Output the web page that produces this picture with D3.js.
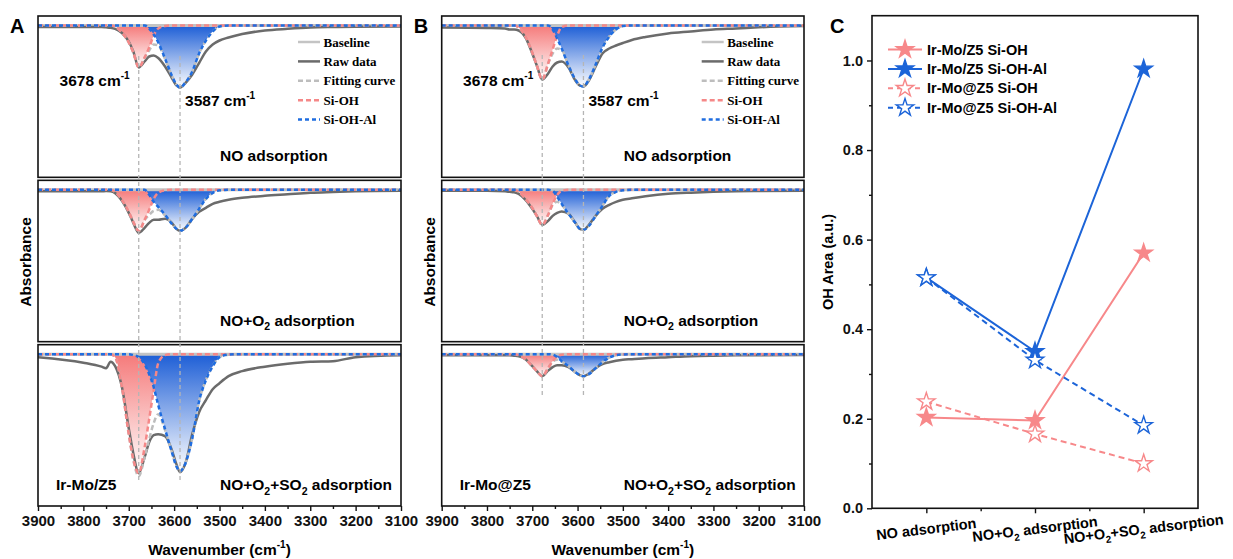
<!DOCTYPE html>
<html>
<head>
<meta charset="utf-8">
<script src="https://cdn.jsdelivr.net/npm/d3@7"></script>
<style>
  body { margin: 0; background: #fff; }
  svg { display: block; font-family: "Liberation Sans", Arial, sans-serif; font-weight: bold; }
</style>
</head>
<body>
<div id="app"></div>
<script>
// wavenumber grid (cm-1) shared by every spectrum
const wavenumbers = [3900, 3800, 3760, 3750, 3740, 3730, 3715, 3700, 3690, 3678, 3665, 3655, 3645, 3635, 3620, 3605,
                     3595, 3587, 3575, 3560, 3545, 3530, 3515, 3500, 3480, 3450, 3400, 3350, 3300, 3250, 3200, 3100];
const conditions = ['NO adsorption', 'NO+O_2 adsorption', 'NO+O_2+SO_2 adsorption'];
const peakCenters = [3678, 3587];

// absorbance loss (x0.01 a.u.), one row per condition -- Ir-Mo/Z5
const rawZ5 = [
  [1.5, 1.5, 1.5, 1.8, 2.2, 3.3, 7.5, 16, 26, 42, 36, 31, 30, 32.5, 41, 52.5, 60, 62, 57.5, 49, 37.5, 26, 19, 15, 12, 8.5, 5, 3.3, 2, 1.5, 1.2, 1],
  [1.5, 1.5, 1.5, 1.2, 1.5, 3.3, 11, 23, 33, 43, 38, 33, 30, 30, 29, 33, 39, 41, 38, 29, 22, 18, 14, 12, 10, 8, 6, 4.5, 3, 2.2, 1.5, 1],
  [3, 8.5, 12.5, 14, 7.5, 12, 33, 74, 99, 119, 103, 88, 81, 80, 82, 96, 110, 118, 109, 80, 58, 46, 35, 29, 22, 17, 12.5, 9.5, 7.5, 7, 3, 1]
];
const siohZ5 = [
  [0, 0, 0, 0, 0, 1, 7, 17, 27, 42, 32, 22, 10, 3, 0.5, 0, 0, 0, 0, 0, 0, 0, 0, 0, 0, 0, 0, 0, 0, 0, 0, 0],
  [0, 0, 0, 0, 0, 2, 10, 22, 32, 41, 30, 20, 9, 3, 0.5, 0, 0, 0, 0, 0, 0, 0, 0, 0, 0, 0, 0, 0, 0, 0, 0, 0],
  [0, 0, 0, 0, 0, 3, 33, 80, 105, 119, 93, 65, 36, 9, 1, 0, 0, 0, 0, 0, 0, 0, 0, 0, 0, 0, 0, 0, 0, 0, 0, 0]
];
const sioalZ5 = [
  [0, 0, 0, 0, 0, 0, 0, 0, 0, 0, 0, 3, 9, 17, 33, 50, 59, 62, 57, 46, 28, 15, 6, 1, 0, 0, 0, 0, 0, 0, 0, 0],
  [0, 0, 0, 0, 0, 0, 0, 0, 0, 0, 0, 5, 12, 17, 25, 34, 39, 41, 38, 29, 19, 9, 3, 0.5, 0, 0, 0, 0, 0, 0, 0, 0],
  [0, 0, 0, 0, 0, 0, 0, 0, 1, 3, 10, 20, 33, 51, 75, 98, 112, 117, 109, 84, 47, 26, 12, 3, 0.5, 0, 0, 0, 0, 0, 0, 0]
];
const fitZ5 = [
  [0, 0, 0, 0, 0, 1, 7, 17, 27, 42, 32, 25, 19, 20, 33.5, 50, 59, 62, 57, 46, 28, 15, 6, 1, 0, 0, 0, 0, 0, 0, 0, 0],
  [0, 0, 0, 0, 0, 2, 10, 22, 32, 41, 30, 25, 21, 20, 25.5, 34, 39, 41, 38, 29, 19, 9, 3, 0.5, 0, 0, 0, 0, 0, 0, 0, 0],
  [0, 0, 0, 0, 0, 3, 33, 80, 106, 122, 103, 85, 69, 60, 76, 98, 112, 117, 109, 84, 47, 26, 12, 3, 0.5, 0, 0, 0, 0, 0, 0, 0]
];

// Ir-Mo@Z5
const rawAt = [
  [2, 2.5, 3, 4, 4, 5, 12, 28, 40, 54, 48, 41, 37, 36, 42, 55, 60, 61, 55, 41, 28, 23, 20, 17.5, 14.5, 11.5, 8, 6, 4, 3, 1.8, 0.5],
  [1, 1, 1.5, 2, 2.5, 4, 10, 19, 26, 35, 31, 26, 23, 21.6, 24, 33, 39, 40, 35, 26, 19, 15, 12, 10, 8.5, 6.5, 4, 2.8, 2, 1.5, 1.2, 0.8],
  [1, 1, 1, 1.2, 1.5, 2, 5, 12, 17, 22, 16.5, 13, 11, 11, 13, 18, 21, 22, 19.5, 14, 10, 8, 6.5, 5.5, 5, 4, 3, 2, 1.5, 1.2, 1, 0.8]
];
const siohAt = [
  [0, 0, 0, 0, 0, 2, 11, 27, 40, 54, 38, 24, 10, 1.5, 0, 0, 0, 0, 0, 0, 0, 0, 0, 0, 0, 0, 0, 0, 0, 0, 0, 0],
  [0, 0, 0, 0, 0, 2, 9, 18, 26, 35, 25, 14, 5, 1, 0, 0, 0, 0, 0, 0, 0, 0, 0, 0, 0, 0, 0, 0, 0, 0, 0, 0],
  [0, 0, 0, 0, 0, 1, 5, 12, 17, 22, 14, 7, 2.5, 0.5, 0, 0, 0, 0, 0, 0, 0, 0, 0, 0, 0, 0, 0, 0, 0, 0, 0, 0]
];
const sioalAt = [
  [0, 0, 0, 0, 0, 0, 0, 0, 0, 0, 0, 4, 13, 23, 40, 54, 60, 61, 54, 39, 22, 11, 4, 0.5, 0, 0, 0, 0, 0, 0, 0, 0],
  [0, 0, 0, 0, 0, 0, 0, 0, 0, 0, 0, 1, 7, 14, 24, 33, 39, 40, 36, 26, 16, 6, 2, 0.5, 0, 0, 0, 0, 0, 0, 0, 0],
  [0, 0, 0, 0, 0, 0, 0, 0, 0, 0, 0, 0.5, 3, 7, 12, 18, 21, 22, 20, 14, 8, 3.5, 1, 0.3, 0, 0, 0, 0, 0, 0, 0, 0]
];
const fitAt = [
  [0, 0, 0, 0, 0, 2, 11, 27, 40, 54, 38, 28, 23, 24.5, 40, 54, 60, 61, 54, 39, 22, 11, 4, 0.5, 0, 0, 0, 0, 0, 0, 0, 0],
  [0, 0, 0, 0, 0, 2, 9, 18, 26, 35, 25, 15, 12, 15, 24, 33, 39, 40, 36, 26, 16, 6, 2, 0.5, 0, 0, 0, 0, 0, 0, 0, 0],
  [0, 0, 0, 0, 0, 1, 5, 12, 17, 22, 14, 7.5, 5.5, 7.5, 12, 18, 21, 22, 20, 14, 8, 3.5, 1, 0.3, 0, 0, 0, 0, 0, 0, 0, 0]
];

// panel C: OH peak areas
const categoriesC = ['NO adsorption', 'NO+O_2 adsorption', 'NO+O_2+SO_2 adsorption'];
const areaZ5SiOH = [0.203, 0.196, 0.570];
const areaZ5SiOHAl = [0.515, 0.350, 0.981];
const areaAtSiOH = [0.238, 0.166, 0.100];
const areaAtSiOHAl = [0.515, 0.331, 0.185];

const pink = '#f7888a', blue = '#1c64d8';
const gray = '#6b6b6b', light = '#c4c4c4';

const svg = d3.select('#app').append('svg').attr('width', 1233).attr('height', 559);
const defs = svg.append('defs');
function gradient(id, color) {
  const g = defs.append('linearGradient').attr('id', id)
    .attr('x1', 0).attr('y1', 0).attr('x2', 0).attr('y2', 1);
  g.append('stop').attr('offset', '0%').attr('stop-color', color);
  g.append('stop').attr('offset', '100%').attr('stop-color', '#fff');
}
gradient('gPink', '#f57a7a');
gradient('gBlue', '#1d5ed6');

// text with _2 subscripts and ^-1 superscripts
function rich(sel, str, size) {
  const parts = str.split(/(_\d|\^-1)/).filter(s => s);
  let cur = 0;
  parts.forEach(p => {
    let off = 0, fs = null, txt = p;
    if (p[0] === '_') { txt = p.slice(1); off = size * 0.3; fs = size * 0.68; }
    else if (p[0] === '^') { txt = p.slice(1); off = -size * 0.42; fs = size * 0.65; }
    const ts = sel.append('tspan').attr('dy', off - cur).text(txt);
    if (fs) ts.attr('font-size', fs);
    cur = off;
  });
  return sel;
}

function styleAxis(ax, size) {
  ax.selectAll('.domain').remove();
  ax.selectAll('line').attr('stroke', '#111').attr('stroke-width', 1.4);
  ax.selectAll('text').attr('font-size', size).attr('font-family', '"Liberation Sans", Arial, sans-serif')
    .attr('font-weight', 'bold').attr('fill', '#111');
}

function spectraPanel(left, right, letter, sample, raw, sioh, sioal, fit, vTop, vBottom) {
  const x = d3.scaleLinear().domain([3900, 3100]).range([left, right]);
  const top = 16, bottom = 506, gap = 3;
  const subH = (bottom - top - 2 * gap) / 3;
  const g = svg.append('g');

  conditions.forEach((cond, i) => {
    const t = top + i * (subH + gap), b = t + subH;
    const y = d3.scaleLinear().domain([-9.5, subH - 9.5]).range([t, b]);
    const s = g.append('g');
    const line = d3.line().x((d, k) => x(wavenumbers[k])).y(d => y(d)).curve(d3.curveMonotoneX);
    const area = d3.area().x((d, k) => x(wavenumbers[k])).y0(y(0)).y1(d => y(d)).curve(d3.curveMonotoneX);

    s.append('path').attr('d', area(sioh[i])).attr('fill', 'url(#gPink)');
    s.append('path').attr('d', area(sioal[i])).attr('fill', 'url(#gBlue)');
    s.append('line').attr('x1', left).attr('x2', right).attr('y1', y(0)).attr('y2', y(0))
      .attr('stroke', light).attr('stroke-width', 3);
    s.append('path').attr('d', line(raw[i])).attr('fill', 'none')
      .attr('stroke', gray).attr('stroke-width', 2.5);
    s.append('path').attr('d', line(fit[i])).attr('fill', 'none')
      .attr('stroke', '#bdbdbd').attr('stroke-width', 2.5).attr('stroke-dasharray', '5,3');
    s.append('path').attr('d', line(sioh[i])).attr('fill', 'none')
      .attr('stroke', '#f58888').attr('stroke-width', 2.5).attr('stroke-dasharray', '5,3');
    s.append('path').attr('d', line(sioal[i])).attr('fill', 'none')
      .attr('stroke', '#1f6de0').attr('stroke-width', 2.5).attr('stroke-dasharray', '4,3');

    rich(s.append('text').attr('x', left + 182).attr('y', b - 16).attr('font-size', 15.5), cond, 15.5);
    if (i === 2) {
      s.append('text').attr('x', left + 18).attr('y', b - 16).attr('font-size', 15.5).text(sample);
    }
    s.append('rect').attr('x', left).attr('y', t).attr('width', right - left).attr('height', subH)
      .attr('fill', 'none').attr('stroke', '#111').attr('stroke-width', 1.6);
  });

  // peak position guides
  g.selectAll('.vguide').data(peakCenters).enter().append('line')
    .attr('x1', d => x(d)).attr('x2', d => x(d)).attr('y1', vTop).attr('y2', vBottom)
    .attr('stroke', '#b5b5b5').attr('stroke-width', 1.3).attr('stroke-dasharray', '4,3');

  rich(g.append('text').attr('x', x(3678) - 9).attr('y', 86).attr('text-anchor', 'end').attr('font-size', 15.5), '3678 cm^-1', 15.5);
  rich(g.append('text').attr('x', x(3587) + 5).attr('y', 106).attr('font-size', 15.5), '3587 cm^-1', 15.5);

  // legend
  const items = [
    { name: 'Baseline', color: light, dash: null },
    { name: 'Raw data', color: gray, dash: null },
    { name: 'Fitting curve', color: '#bdbdbd', dash: '5,3' },
    { name: 'Si-OH', color: '#f58888', dash: '5,3' },
    { name: 'Si-OH-Al', color: '#1f6de0', dash: '4,3' }
  ];
  const lg = g.append('g').attr('transform', `translate(${left + 260},42)`);
  items.forEach((it, k) => {
    lg.append('line').attr('x1', 0).attr('x2', 22).attr('y1', k * 19.4).attr('y2', k * 19.4)
      .attr('stroke', it.color).attr('stroke-width', 2.5).attr('stroke-dasharray', it.dash);
    lg.append('text').attr('x', 25.5).attr('y', k * 19.4 + 4.5)
      .attr('font-family', '"Liberation Serif", "Times New Roman", serif').attr('font-size', 13)
      .text(it.name);
  });

  // x axis, major and minor ticks in separate groups
  const ax = g.append('g').attr('transform', `translate(0,${bottom})`)
    .call(d3.axisBottom(x).tickValues(d3.range(3100, 3901, 100)).tickFormat(d3.format('d'))
      .tickSize(5).tickPadding(4));
  const axm = g.append('g').attr('transform', `translate(0,${bottom})`)
    .call(d3.axisBottom(x).tickValues(d3.range(3150, 3900, 100)).tickFormat('').tickSize(3));
  styleAxis(ax, 15);
  styleAxis(axm, 15);

  rich(g.append('text').attr('x', (left + right) / 2).attr('y', 555).attr('text-anchor', 'middle')
    .attr('font-size', 15.5), 'Wavenumber (cm^-1)', 15.5);
  g.append('text').attr('transform', `translate(${left - 11},262) rotate(-90)`)
    .attr('text-anchor', 'middle').attr('dominant-baseline', 'middle').attr('font-size', 15.5).text('Absorbance');
  g.append('text').attr('x', left - 28).attr('y', 33).attr('font-size', 20).text(letter);
}

spectraPanel(38, 401, 'A', 'Ir-Mo/Z5', rawZ5, siohZ5, sioalZ5, fitZ5, 56, 483);
spectraPanel(441.7, 804, 'B', 'Ir-Mo@Z5', rawAt, siohAt, sioalAt, fitAt, 55, 396);

// ---- panel C ----
const cx = d3.scaleLinear().domain([0.5, 3.5]).range([872, 1198]);
const cy = d3.scaleLinear().domain([0, 1.1]).range([508.3, 15.7]);
const gc = svg.append('g');

const seriesC = [
  { name: 'Ir-Mo/Z5 Si-OH', values: areaZ5SiOH, color: pink, dash: null, filled: true },
  { name: 'Ir-Mo/Z5 Si-OH-Al', values: areaZ5SiOHAl, color: blue, dash: null, filled: true },
  { name: 'Ir-Mo@Z5 Si-OH', values: areaAtSiOH, color: pink, dash: '6,4', filled: false },
  { name: 'Ir-Mo@Z5 Si-OH-Al', values: areaAtSiOHAl, color: blue, dash: '6,4', filled: false }
];
const star = d3.symbol().type(d3.symbolStar).size(95);
const lineC = d3.line().x((d, i) => cx(i + 1)).y(d => cy(d));

seriesC.forEach(s => {
  gc.append('path').attr('d', lineC(s.values)).attr('fill', 'none')
    .attr('stroke', s.color).attr('stroke-width', 2).attr('stroke-dasharray', s.dash);
});
seriesC.forEach(s => {
  gc.selectAll(null).data(s.values).enter().append('path')
    .attr('d', star).attr('transform', (d, i) => `translate(${cx(i + 1)},${cy(d)})`)
    .attr('fill', s.filled ? s.color : '#fff').attr('stroke', s.color).attr('stroke-width', 1.4);
});

gc.append('rect').attr('x', 872).attr('y', 15.7).attr('width', 326).attr('height', 492.6)
  .attr('fill', 'none').attr('stroke', '#111').attr('stroke-width', 1.6);

const ay = gc.append('g').attr('transform', 'translate(872,0)')
  .call(d3.axisLeft(cy).tickValues([0, 0.2, 0.4, 0.6, 0.8, 1.0]).tickFormat(d3.format('.1f')).tickSize(5).tickPadding(4));
const aym = gc.append('g').attr('transform', 'translate(872,0)')
  .call(d3.axisLeft(cy).tickValues([0.1, 0.3, 0.5, 0.7, 0.9]).tickFormat('').tickSize(3));
const axc = gc.append('g').attr('transform', 'translate(0,508.3)')
  .call(d3.axisBottom(cx).tickValues([1, 2, 3]).tickFormat('').tickSize(5));
const axcm = gc.append('g').attr('transform', 'translate(0,508.3)')
  .call(d3.axisBottom(cx).tickValues([1.5, 2.5]).tickFormat('').tickSize(3));
[ay, aym, axc, axcm].forEach(a => styleAxis(a, 14.5));

categoriesC.forEach((c, i) => {
  const px = cx(i + 1), py = 529;
  rich(gc.append('text').attr('x', px).attr('y', py + 5).attr('text-anchor', 'middle')
    .attr('transform', `rotate(-7,${px},${py})`).attr('font-size', 14.5), c, 14.5);
});

gc.append('text').attr('transform', 'translate(829,262) rotate(-90)').attr('text-anchor', 'middle')
  .attr('dominant-baseline', 'middle').attr('font-size', 14.5).text('OH Area (a.u.)');
gc.append('text').attr('x', 830).attr('y', 33).attr('font-size', 20).text('C');

const lgc = gc.append('g').attr('transform', 'translate(888,49.5)');
seriesC.forEach((s, k) => {
  const yy = k * 19.4;
  lgc.append('line').attr('x1', 0).attr('x2', 34).attr('y1', yy).attr('y2', yy)
    .attr('stroke', s.color).attr('stroke-width', 2).attr('stroke-dasharray', s.dash ? '5,4' : null);
  lgc.append('path').attr('d', star).attr('transform', `translate(17,${yy})`)
    .attr('fill', s.filled ? s.color : '#fff').attr('stroke', s.color).attr('stroke-width', 1.4);
  lgc.append('text').attr('x', 39).attr('y', yy + 5).attr('font-size', 14.5).text(s.name);
});
</script>
</body>
</html>
